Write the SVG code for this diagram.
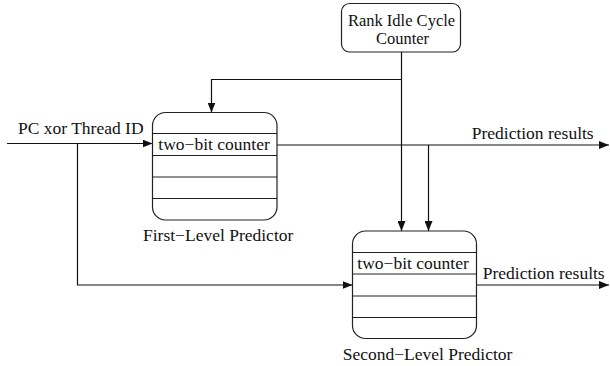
<svg xmlns="http://www.w3.org/2000/svg" width="610" height="366" viewBox="0 0 610 366">
<style>
text{font-family:"Liberation Serif",serif;font-size:17.5px;fill:#111}
.sm{font-size:16.5px}
.box{fill:#fff;stroke:#222;stroke-width:1.2}
.row{stroke:#222;stroke-width:1.1}
.c{fill:none;stroke:#111;stroke-width:1.2}
</style>
<defs>
<marker id="ah" viewBox="0 0 10 8" refX="10" refY="4" markerWidth="10" markerHeight="8" markerUnits="userSpaceOnUse" orient="auto">
<path d="M0,0 L10,4 L0,8 z" fill="#111"/>
</marker>
</defs>
<g id="connectors">
<path class="c" d="M7,143.5 H152.5" marker-end="url(#ah)"/>
<path class="c" d="M77.5,143.5 V285 H352.5" marker-end="url(#ah)"/>
<path class="c" d="M401.5,52 V231" marker-end="url(#ah)"/>
<path class="c" d="M401.5,79.5 H211.5 V112.5" marker-end="url(#ah)"/>
<path class="c" d="M277,145 H609" marker-end="url(#ah)"/>
<path class="c" d="M428.5,145 V231" marker-end="url(#ah)"/>
<path class="c" d="M476.5,285 H609" marker-end="url(#ah)"/>
</g>
<g id="rank-idle-cycle-counter">
<rect class="box" x="341.5" y="3.5" width="119" height="48.5" rx="8"/>
<text class="sm" x="401.5" y="25.5" text-anchor="middle">Rank Idle Cycle</text>
<text class="sm" x="402.5" y="43.5" text-anchor="middle">Counter</text>
</g>
<g id="first-level-predictor">
<rect class="box" x="152.5" y="112.5" width="124.5" height="107.5" rx="13"/>
<line class="row" x1="152.5" y1="133.5" x2="277" y2="133.5"/>
<line class="row" x1="152.5" y1="155.5" x2="277" y2="155.5"/>
<line class="row" x1="152.5" y1="177" x2="277" y2="177"/>
<line class="row" x1="152.5" y1="198.5" x2="277" y2="198.5"/>
<text x="158.3" y="150">two−bit counter</text>
<text x="143" y="241">First−Level Predictor</text>
</g>
<g id="second-level-predictor">
<rect class="box" x="352.5" y="231" width="124" height="107.5" rx="13"/>
<line class="row" x1="352.5" y1="252.5" x2="476.5" y2="252.5"/>
<line class="row" x1="352.5" y1="274" x2="476.5" y2="274"/>
<line class="row" x1="352.5" y1="296" x2="476.5" y2="296"/>
<line class="row" x1="352.5" y1="317.5" x2="476.5" y2="317.5"/>
<text x="357.3" y="268.5">two−bit counter</text>
<text x="342.7" y="360">Second−Level Predictor</text>
</g>
<g id="labels">
<text x="18" y="134">PC xor Thread ID</text>
<text x="471.7" y="138.5">Prediction results</text>
<text x="482.7" y="279">Prediction results</text>
</g>
</svg>
